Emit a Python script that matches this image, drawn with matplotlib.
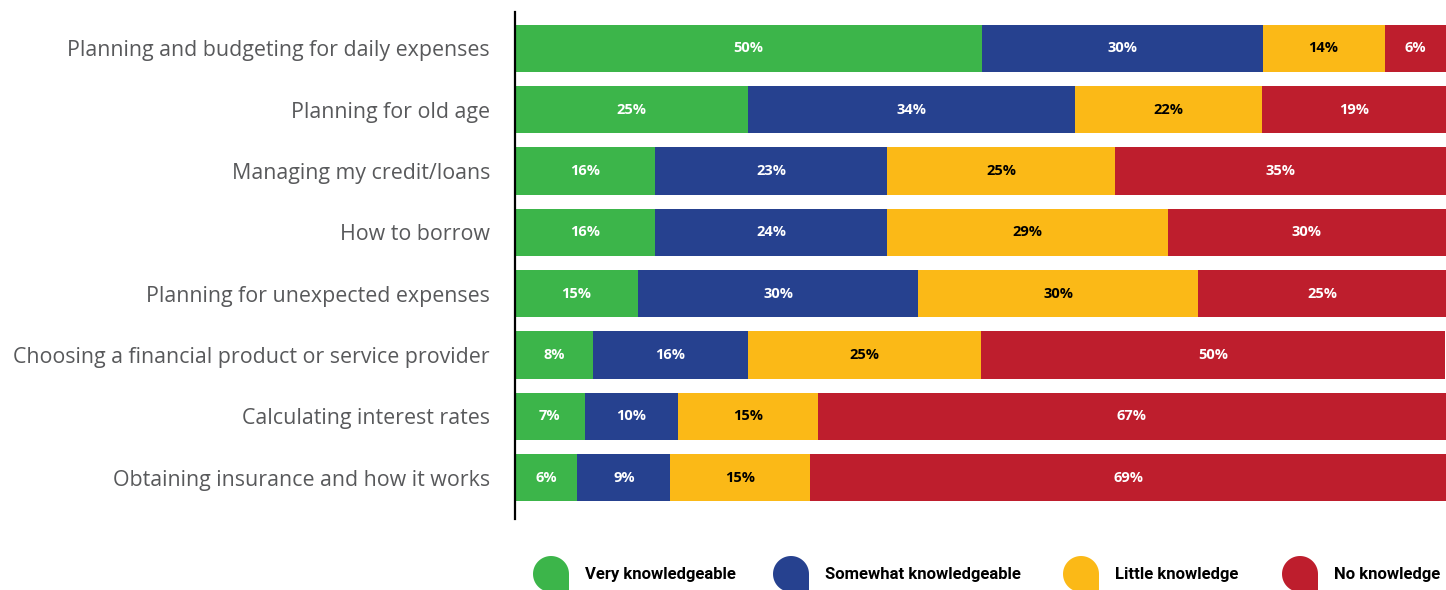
import numpy as np
import matplotlib.pyplot as plt
from matplotlib import font_manager as fm

# ==================== data ====================
categories = [
    'Planning and budgeting for daily expenses',
    'Planning for old age',
    'Managing my credit/loans',
    'How to borrow',
    'Planning for unexpected expenses',
    'Choosing a financial product or service provider',
    'Calculating interest rates',
    'Obtaining insurance and how it works',
]
series = ['Very knowledgeable', 'Somewhat knowledgeable', 'Little knowledge', 'No knowledge']

# printed labels (%)
very_lbl = [50, 25, 16, 16, 15, 8, 7, 6]
somewhat_lbl = [30, 34, 23, 24, 30, 16, 10, 9]
little_lbl = [14, 22, 25, 29, 30, 25, 15, 15]
none_lbl = [6, 19, 35, 30, 25, 50, 67, 69]

# bar lengths as drawn (%)
very_w = [50.2, 25.0, 15.0, 15.0, 13.2, 8.4, 7.5, 6.7]
somewhat_w = [30.1, 35.1, 25.0, 25.0, 30.1, 16.6, 10.0, 10.0]
little_w = [13.1, 20.1, 24.4, 30.1, 30.1, 25.1, 15.0, 15.0]
none_w = [6.7, 19.8, 35.6, 29.9, 26.6, 49.8, 67.5, 68.3]

colors = ['#3cb54a', '#26418f', '#fbb917', '#be1e2d']
text_colors = ['white', 'white', 'black', 'white']

widths = [very_w, somewhat_w, little_w, none_w]
labels = [very_lbl, somewhat_lbl, little_lbl, none_lbl]

# condensed bold font for the legend, if there is one
cond = [f for f in fm.fontManager.ttflist
        if f.name == 'DejaVu Sans' and f.stretch == 'condensed' and f.weight == 'bold']
if cond:
    legend_font = dict(fname=cond[0].fname)
    legend_size = 12.5
else:
    legend_font = dict(family='Roboto', weight='bold')
    legend_size = 12

# ==================== figure ====================
W, H = 1446, 590
fig = plt.figure(figsize=(W / 100, H / 100), dpi=100)
ax = fig.add_axes([515 / W, 1 - 519 / H, 931 / W, (519 - 12) / H])

y = np.arange(len(categories))
left = np.zeros(len(categories))
for w, lbl, c, tc in zip(widths, labels, colors, text_colors):
    w = np.array(w)
    ax.barh(y, w, left=left, height=0.77, color=c, edgecolor='none')
    for yi, (l, wi, t) in enumerate(zip(left, w, lbl)):
        ax.text(l + wi / 2, yi, f'{t}%', ha='center', va='center',
                color=tc, fontsize=10.5, fontweight='bold', family='Open Sans')
    left = left + w

ax.set_xlim(0, 100)
ax.set_ylim(len(categories) - 1 + 0.677, -0.595)
ax.set_yticks(y)
ax.set_yticklabels(categories, fontsize=15.4, color='#58595b', family='Open Sans')
ax.tick_params(axis='y', length=0, pad=18)
ax.set_xticks([])
for s in ['top', 'right', 'bottom']:
    ax.spines[s].set_visible(False)
ax.spines['left'].set_linewidth(1.6)
ax.spines['left'].set_color('black')

# ==================== legend ====================
lax = fig.add_axes([0, 0, 1, 1])
lax.set_xlim(0, W)
lax.set_ylim(0, H)
lax.axis('off')
lax.patch.set_alpha(0)

marker_x = [551, 791, 1081, 1300]
text_x = [585, 825, 1115, 1334]
cy, r = H - 574, 18
for mx, tx, c, name in zip(marker_x, text_x, colors, series):
    ang = np.linspace(0, 1.5 * np.pi, 60)
    px = list(mx + r * np.cos(ang)) + [mx, mx + r]
    py = list(cy + r * np.sin(ang)) + [cy - r, cy - r]
    lax.fill(px, py, color=c, lw=0)
    lax.text(tx, H - 575, name, ha='left', va='center',
             fontproperties=fm.FontProperties(size=legend_size, **legend_font),
             color='black')

fig.savefig('out.png', dpi=100)
